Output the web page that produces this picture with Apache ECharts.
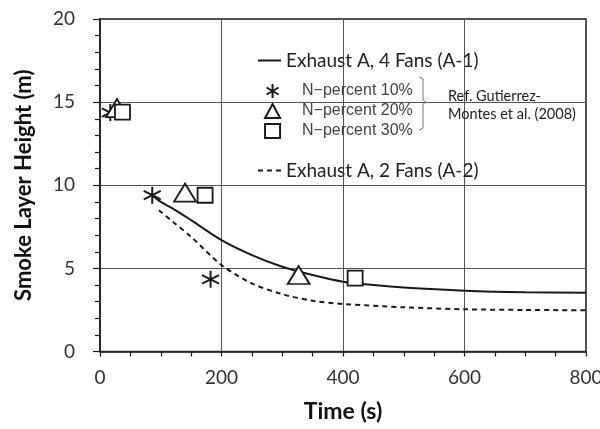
<!DOCTYPE html>
<html>
<head>
<meta charset="utf-8">
<script src="https://cdn.jsdelivr.net/npm/echarts@6/dist/echarts.min.js"></script>
<style>
  html, body { margin: 0; padding: 0; background: #fff; }
  #chart { width: 600px; height: 429px; }
</style>
</head>
<body>
<div id="chart"></div>
<script>
// curve A-1 (4 fans) and A-2 (2 fans)
var timeA1 = [86, 100, 120, 150, 200, 250, 300, 350, 400, 450, 500, 600, 700, 800];
var heightA1 = [9.4, 9.0, 8.6, 7.9, 6.7, 5.8, 5.1, 4.6, 4.2, 4.0, 3.85, 3.66, 3.56, 3.53];
var timeA2 = [97, 120, 150, 200, 250, 300, 350, 400, 500, 600, 700, 800];
var heightA2 = [8.5, 7.8, 6.9, 5.2, 4.1, 3.45, 3.05, 2.86, 2.66, 2.54, 2.5, 2.48];

// Gutierrez-Montes et al. (2008) points
var time10 = [17, 86, 182];
var height10 = [14.37, 9.4, 4.34];
var time20 = [28, 140, 327];
var height20 = [14.64, 9.56, 4.6];
var time30 = [37, 173, 420];
var height30 = [14.4, 9.4, 4.41];

var xTicks = [0, 200, 400, 600, 800];
var yTicks = [0, 5, 10, 15, 20];

function pairs(xs, ys) {
    var out = [];
    for (var i = 0; i < xs.length; i++) {
        out.push([xs[i], ys[i]]);
    }
    return out;
}

var starPath = 'path://M0,-10L0,10M-8.66,-5L8.66,5M-8.66,5L8.66,-5';
var ink = '#1a1a1a';

var option = {
    animation: false,
    backgroundColor: '#fff',
    grid: {
        left: 100, right: 14, top: 19, bottom: 77.5,
        outerBoundsMode: 'none',
        show: true, borderColor: ink, borderWidth: 1.5
    },
    legend: [
        {
            left: 257, top: 51, padding: 0, itemWidth: 23, itemHeight: 14, itemGap: 0,
            itemStyle: { opacity: 0 },
            lineStyle: { width: 2 },
            data: ['Exhaust A, 4 Fans (A-1)'],
            textStyle: { fontFamily: 'Lato', fontSize: 19, color: '#222' }
        },
        {
            left: 264, top: 81, padding: 0, orient: 'vertical', itemWidth: 15, itemHeight: 14, itemGap: 0,
            data: ['N\u2212percent 10%', 'N\u2212percent 20%', 'N\u2212percent 30%'],
            textStyle: { fontFamily: 'Liberation Sans', fontSize: 16, color: '#444', lineHeight: 20, padding: [0, 0, 0, 17] }
        },
        {
            left: 257, top: 161, padding: 0, itemWidth: 23, itemHeight: 14, itemGap: 0,
            itemStyle: { opacity: 0 },
            lineStyle: { width: 2 },
            data: ['Exhaust A, 2 Fans (A-2)'],
            textStyle: { fontFamily: 'Lato', fontSize: 19, color: '#222' }
        }
    ],
    xAxis: {
        type: 'value', min: 0, max: 800, interval: 200,
        name: 'Time (s)', nameLocation: 'middle', nameGap: 49,
        nameTextStyle: { fontFamily: 'Lato', fontSize: 23, fontWeight: 'bold', color: '#111' },
        axisLine: { lineStyle: { color: ink, width: 1.5 } },
        axisTick: { length: 5, lineStyle: { color: ink, width: 1.2 } },
        minorTick: { show: true, splitNumber: 4, length: 5, lineStyle: { color: ink, width: 1.2 } },
        axisLabel: {
            margin: 17, fontFamily: 'Lato', fontSize: 19, color: '#333',
            customValues: xTicks
        },
        splitLine: { show: true, lineStyle: { color: '#555', width: 1 } }
    },
    yAxis: {
        type: 'value', min: 0, max: 20, interval: 5,
        name: 'Smoke Layer Height (m)', nameLocation: 'middle', nameGap: 65,
        nameTextStyle: { fontFamily: 'Lato', fontSize: 22, fontWeight: 'bold', color: '#111' },
        axisLine: { show: true, lineStyle: { color: ink, width: 1.5 } },
        axisTick: { show: true, length: 7, lineStyle: { color: ink, width: 1.2 } },
        minorTick: { show: true, splitNumber: 5, length: 5, lineStyle: { color: ink, width: 1.2 } },
        axisLabel: {
            margin: 25, fontFamily: 'Lato', fontSize: 19, color: '#333',
            customValues: yTicks
        },
        splitLine: { show: true, lineStyle: { color: '#555', width: 1 } }
    },
    graphic: [
        {
            type: 'polyline', z: 100,
            shape: { points: [[419, 77], [423, 79], [423, 100], [426, 102], [423, 104], [423, 128], [419, 130]] },
            style: { stroke: '#777', lineWidth: 1, fill: null }
        },
        {
            type: 'text', left: 448, top: 89, z: 100,
            style: { text: 'Ref. Gutierrez-', font: '14.5px Lato', fill: '#222' }
        },
        {
            type: 'text', left: 448, top: 107, z: 100,
            style: { text: 'Montes et al. (2008)', font: '14.5px Lato', fill: '#222' }
        }
    ],
    series: [
        {
            name: 'Exhaust A, 4 Fans (A-1)', type: 'line', smooth: 0.3,
            symbol: 'none', z: 2,
            lineStyle: { color: ink, width: 2 },
            itemStyle: { color: ink },
            data: pairs(timeA1, heightA1)
        },
        {
            name: 'Exhaust A, 2 Fans (A-2)', type: 'line', smooth: 0.3,
            symbol: 'none', z: 2,
            lineStyle: { color: ink, width: 2, type: [5, 4] },
            itemStyle: { color: ink },
            data: pairs(timeA2, heightA2)
        },
        {
            name: 'N\u2212percent 10%', type: 'scatter', symbol: starPath, symbolSize: [17, 17], z: 5,
            itemStyle: { color: 'none', borderColor: ink, borderWidth: 2, opacity: 1 },
            data: pairs(time10, height10)
        },
        {
            name: 'N\u2212percent 20%', type: 'scatter', symbol: 'triangle', symbolSize: [22, 18], z: 5,
            itemStyle: { color: '#fff', borderColor: ink, borderWidth: 1.8, opacity: 1 },
            data: pairs(time20, height20)
        },
        {
            name: 'N\u2212percent 30%', type: 'scatter', symbol: 'rect', symbolSize: 15, z: 5,
            itemStyle: { color: '#fff', borderColor: ink, borderWidth: 1.8, opacity: 1 },
            data: pairs(time30, height30)
        }
    ]
};

var myChart = echarts.init(document.getElementById('chart'));
myChart.setOption(option);
</script>
</body>
</html>
